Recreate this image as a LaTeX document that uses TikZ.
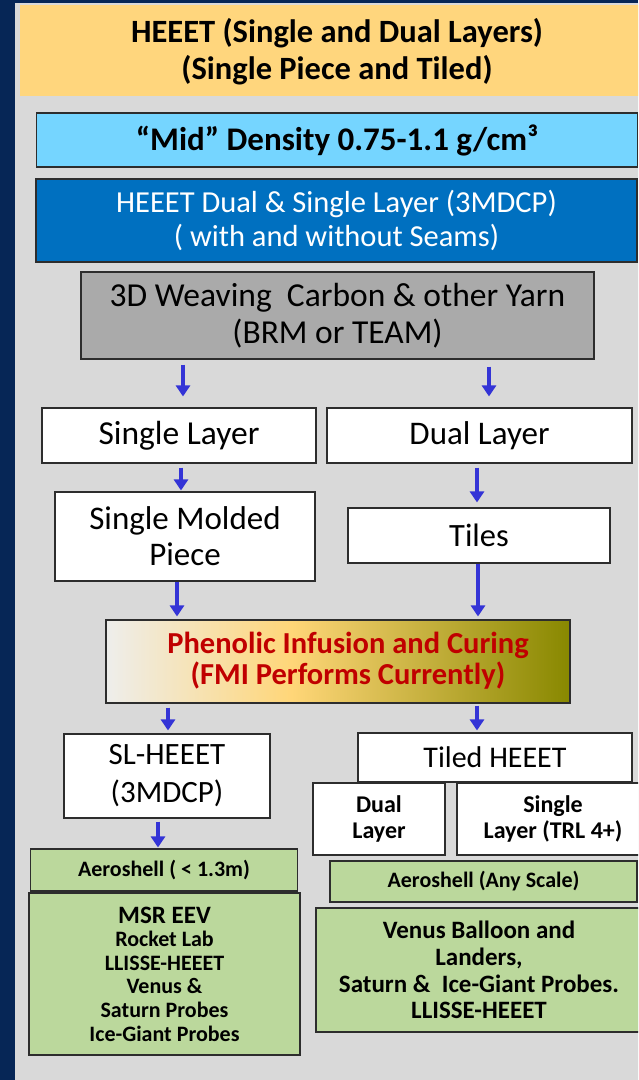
\documentclass[tikz,border=0pt]{standalone}
\usepackage{fontspec}
\setmainfont{Carlito}
\usetikzlibrary{arrows.meta}
\definecolor{navy}{RGB}{6,38,86}
\definecolor{bggray}{RGB}{217,217,217}
\definecolor{topor}{RGB}{255,214,125}
\definecolor{midcyan}{RGB}{117,213,255}
\definecolor{dkblue}{RGB}{0,112,192}
\definecolor{weave}{RGB}{170,170,170}
\definecolor{leaf}{RGB}{187,216,156}
\definecolor{arrblue}{RGB}{52,52,214}
\definecolor{redtxt}{RGB}{192,0,0}
\definecolor{phA}{RGB}{238,238,236}
\definecolor{phB}{RGB}{255,214,120}
\definecolor{phC}{RGB}{136,136,0}
\definecolor{edge}{RGB}{45,45,45}
\pgfdeclarehorizontalshading{phenshade}{100bp}{color(0bp)=(phA); color(25bp)=(phA); color(45bp)=(phB); color(75bp)=(phC); color(100bp)=(phC)}
\newcommand\myfs[2]{\fontsize{#1}{#2}\selectfont}
\begin{document}
\begin{tikzpicture}[x=1pt,y=-1pt,
  box/.style={draw=edge, line width=1.1pt, inner sep=0pt, align=center},
  wbox/.style={box, fill=white},
  gbox/.style={box, fill=leaf},
  arr/.style={draw=arrblue, line width=3.8pt, -{Triangle[width=14pt,length=11pt]}},
]
\useasboundingbox (0,0) rectangle (638,1080);
\clip (0,0) rectangle (638,1080);
\fill[navy] (0,0) rectangle (638,1080);
\fill[bggray] (15,3) rectangle (640,1082);

\node[box, fill=topor, draw=none, minimum width=620pt, minimum height=91pt] (top) at (330,50.5) {};
\node[align=center, font=\myfs{32.5}{37}\bfseries] (title) at (337,51.5) {HEEET (Single and Dual Layers)\\(Single Piece and Tiled)};

\node[box, fill=midcyan, minimum width=601pt, minimum height=54pt, font=\myfs{33}{36}\bfseries] (mid) at (337,140) {“Mid” Density 0.75-1.1 g/cm³};
\node[box, fill=dkblue, text=white, minimum width=601pt, minimum height=83pt, font=\myfs{30.5}{34}] (dual) at (336.5,220.5) {HEEET Dual \& Single Layer (3MDCP)\\( with and without Seams)};
\node[box, fill=weave, minimum width=513pt, minimum height=87pt, font=\myfs{33.5}{37}] (weave) at (337.5,315.5) {3D Weaving\ \ Carbon \& other Yarn\\(BRM or TEAM)};

\node[wbox, minimum width=274pt, minimum height=55pt, font=\myfs{33.5}{36}] (sl) at (179,435.5) {Single Layer};
\node[wbox, minimum width=305pt, minimum height=55pt, font=\myfs{33}{36}] (dl) at (479.5,435.5) {Dual Layer};
\node[wbox, minimum width=260pt, minimum height=89pt, font=\myfs{33}{36}] (smp) at (185,536.5) {Single Molded\\Piece};
\node[wbox, minimum width=262pt, minimum height=55pt, font=\myfs{32.5}{36}] (tiles) at (479,535.5) {Tiles};

\node[box, shade, shading=phenshade, minimum width=464pt, minimum height=83pt] (phen) at (338,661.5) {};
\node[align=center, text=redtxt, font=\myfs{30.5}{31}\bfseries] (phentext) at (348,660.5) {Phenolic Infusion and Curing\\(FMI Performs Currently)};

\node[wbox, minimum width=206pt, minimum height=84pt, font=\myfs{31}{38}] (slh) at (167,776) {SL-HEEET\\(3MDCP)};
\node[wbox, minimum width=274pt, minimum height=49pt, font=\myfs{30}{36}] (tiled) at (495,757.5) {Tiled HEEET};
\node[wbox, minimum width=132pt, minimum height=72pt, font=\myfs{24}{26}\bfseries] (dls) at (379,819) {Dual\\Layer};
\node[wbox, minimum width=192pt, minimum height=72pt, font=\myfs{24}{26}\bfseries] (sls) at (553,819) {Single\\Layer (TRL 4+)};

\node[gbox, minimum width=267pt, minimum height=42pt, font=\myfs{22}{24}\bfseries] (aero1) at (164,870) {Aeroshell ( < 1.3m)};
\node[gbox, minimum width=271pt, minimum height=162pt, font=\myfs{22}{23.6}\bfseries] (msr) at (164.5,974) {{\myfs{25}{23.6}\bfseries MSR EEV}\\Rocket Lab\\LLISSE-HEEET\\Venus \&\\Saturn Probes\\Ice-Giant Probes};
\node[gbox, minimum width=307pt, minimum height=41pt, font=\myfs{22}{24}\bfseries] (aero2) at (483.5,881.5) {Aeroshell (Any Scale)};
\node[gbox, minimum width=326pt, minimum height=124pt, font=\myfs{25}{26.7}\bfseries] (venus) at (479,970) {Venus Balloon and\\Landers,\\Saturn \&\ \ Ice-Giant Probes.\\LLISSE-HEEET};

\coordinate (x1) at (183,0);
\coordinate (x2) at (489,0);
\coordinate (x3) at (181,0);
\coordinate (x4) at (477,0);
\coordinate (x5) at (478,0);
\coordinate (x6) at (177,0);
\coordinate (x7) at (168,0);
\coordinate (x8) at (477,0);
\coordinate (x9) at (158,0);

\draw[arr, shorten <=5pt, shorten >=11pt] (x1 |- weave.south) -- (x1 |- sl.north);
\draw[arr, shorten <=7pt, shorten >=11pt] (x2 |- weave.south) -- (x2 |- dl.north);
\draw[arr, shorten <=4pt, shorten >=1pt] (x3 |- sl.south) -- (x3 |- smp.north);
\draw[arr, shorten <=4pt, shorten >=5pt] (x4 |- dl.south) -- (x4 |- tiles.north);
\draw[arr, shorten <=0pt, shorten >=3pt] (x5 |- tiles.south) -- (x5 |- phen.north);
\draw[arr, shorten <=0pt, shorten >=3pt] (x6 |- smp.south) -- (x6 |- phen.north);
\draw[arr, shorten <=4pt, shorten >=3pt] (x7 |- phen.south) -- (x7 |- slh.north);
\draw[arr, shorten <=2pt, shorten >=2pt] (x8 |- phen.south) -- (x8 |- tiled.north);
\draw[arr, shorten <=3pt, shorten >=1pt] (x9 |- slh.south) -- (x9 |- aero1.north);
\end{tikzpicture}
\end{document}
